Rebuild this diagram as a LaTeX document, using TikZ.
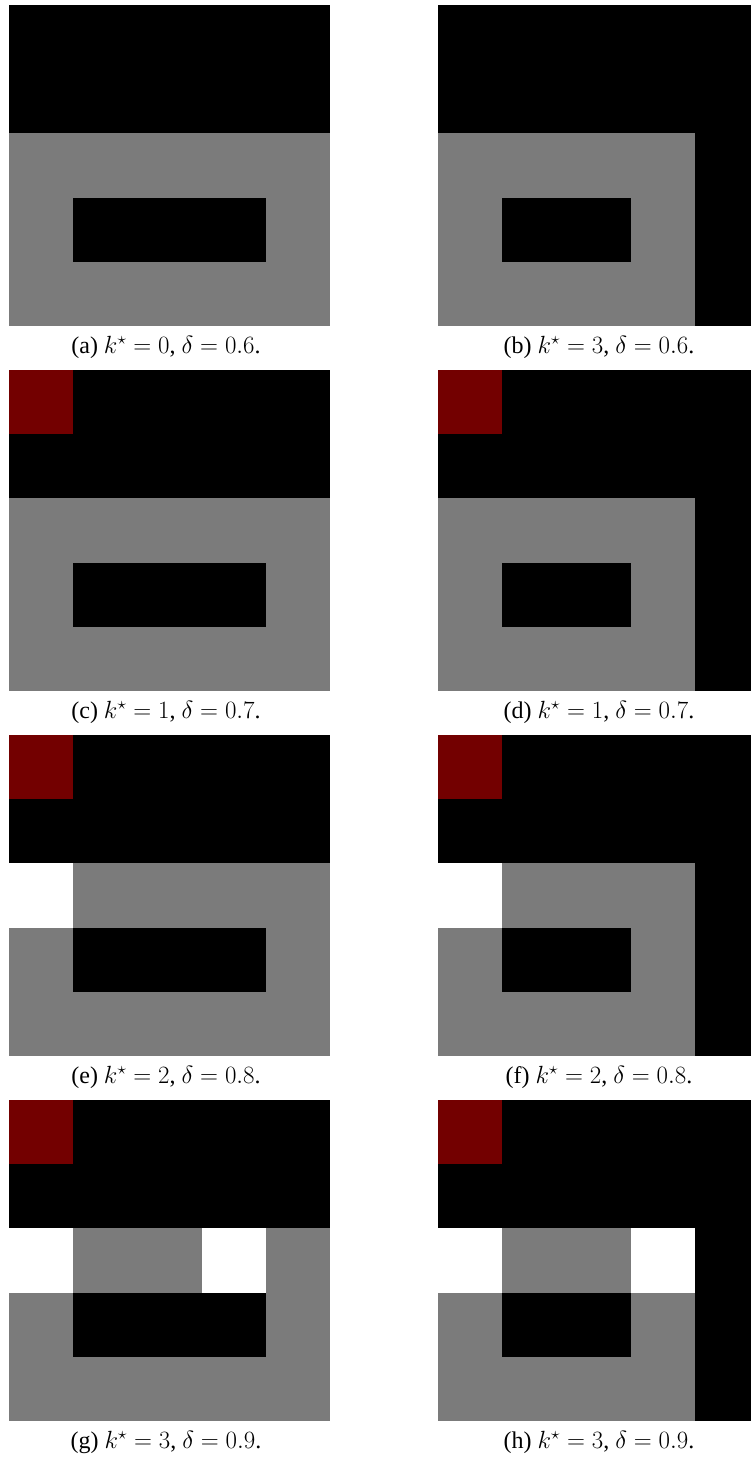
\documentclass[tikz,border=0pt]{standalone}
\usepackage{amsmath}
\usepackage{fontspec}
\setmainfont{Liberation Serif}
\definecolor{cgray}{RGB}{123,123,123}
\definecolor{cred}{RGB}{115,0,0}
\tikzset{
  captext/.style={font=\fontsize{24}{28}\selectfont, inner sep=0pt, anchor=center},
  cellgray/.style={fill=cgray},
  cellblack/.style={fill=black},
  cellred/.style={fill=cred},
  cellwhite/.style={fill=white}
}
\newcommand{\leftbase}{%
  \fill[cellgray] (0,2) rectangle (5,5);
  \fill[cellblack] (0,0) rectangle (5,2);
  \fill[cellblack] (1,3) rectangle (4,4);
}
\newcommand{\rightbase}{%
  \fill[cellgray] (0,2) rectangle (4,5);
  \fill[cellblack] (0,0) rectangle (5,2);
  \fill[cellblack] (4,2) rectangle (5,5);
  \fill[cellblack] (1,3) rectangle (3,4);
}
\begin{document}
\begin{tikzpicture}[x=1pt,y=-1pt]
\useasboundingbox (0,0) rectangle (751,1463);
\clip (0,0) rectangle (751,1463);
% (a),(b)
\begin{scope}[shift={(9pt,-5pt)}, x=64.2pt, y=-64.2pt]
  \leftbase
\end{scope}
\begin{scope}[shift={(438pt,-5pt)}, x=64.2pt, y=-64.2pt]
  \rightbase
\end{scope}
% (c),(d)
\begin{scope}[shift={(9pt,-370pt)}, x=64.2pt, y=-64.2pt]
  \leftbase
  \fill[cellred] (0,0) rectangle (1,1);
\end{scope}
\begin{scope}[shift={(438pt,-370pt)}, x=64.2pt, y=-64.2pt]
  \rightbase
  \fill[cellred] (0,0) rectangle (1,1);
\end{scope}
% (e),(f)
\begin{scope}[shift={(9pt,-735pt)}, x=64.2pt, y=-64.2pt]
  \leftbase
  \fill[cellred] (0,0) rectangle (1,1);
  \fill[cellwhite] (0,2) rectangle (1,3);
\end{scope}
\begin{scope}[shift={(438pt,-735pt)}, x=64.2pt, y=-64.2pt]
  \rightbase
  \fill[cellred] (0,0) rectangle (1,1);
  \fill[cellwhite] (0,2) rectangle (1,3);
\end{scope}
% (g),(h)
\begin{scope}[shift={(9pt,-1100pt)}, x=64.2pt, y=-64.2pt]
  \leftbase
  \fill[cellred] (0,0) rectangle (1,1);
  \fill[cellwhite] (0,2) rectangle (1,3);
  \fill[cellwhite] (3,2) rectangle (4,3);
\end{scope}
\begin{scope}[shift={(438pt,-1100pt)}, x=64.2pt, y=-64.2pt]
  \rightbase
  \fill[cellred] (0,0) rectangle (1,1);
  \fill[cellwhite] (0,2) rectangle (1,3);
  \fill[cellwhite] (3,2) rectangle (4,3);
\end{scope}
% captions
\node[captext] (capa) at (166,347) {(a) $k^\star = 0$, $\delta = 0.6$.};
\node[captext] (capb) at (599,347) {(b) $k^\star = 3$, $\delta = 0.6$.};
\node[captext] (capc) at (166,712) {(c) $k^\star = 1$, $\delta = 0.7$.};
\node[captext] (capd) at (599,712) {(d) $k^\star = 1$, $\delta = 0.7$.};
\node[captext] (cape) at (166,1077) {(e) $k^\star = 2$, $\delta = 0.8$.};
\node[captext] (capf) at (599,1077) {(f) $k^\star = 2$, $\delta = 0.8$.};
\node[captext] (capg) at (166,1442) {(g) $k^\star = 3$, $\delta = 0.9$.};
\node[captext] (caph) at (599,1442) {(h) $k^\star = 3$, $\delta = 0.9$.};
\end{tikzpicture}
\end{document}
